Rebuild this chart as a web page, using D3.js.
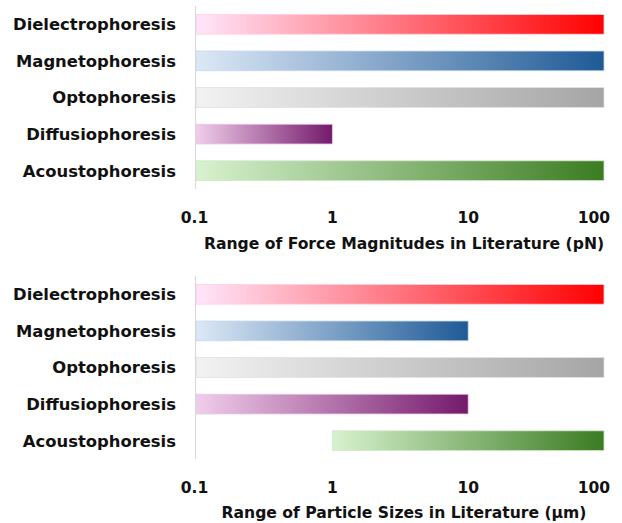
<!DOCTYPE html>
<html><head><meta charset="utf-8">
<script src="https://cdn.jsdelivr.net/npm/d3@7"></script>
<style>body{margin:0;background:#fff}svg{display:block}text{font-family:"DejaVu Sans",sans-serif;font-weight:700;fill:#111}</style>
</head><body><svg id="c" width="622" height="523"></svg>
<script>
const categories = ["Dielectrophoresis","Magnetophoresis","Optophoresis","Diffusiophoresis","Acoustophoresis"];
const forceMin = [0.1,0.1,0.1,0.1,0.1];
const forceMax = [100,100,100,1,100];
const sizeMin = [0.1,0.1,0.1,0.1,1];
const sizeMax = [100,10,100,10,100];
const tickValues = [0.1,1,10,100];
const tickLabels = ["0.1","1","10","100"];
const gradStart = ["#ffe6fb","#dce8f6","#f2f2f2","#f0cdea","#d8f2cf"];
const gradEnd = ["#ff0000","#1f5a96","#a5a5a5","#741a6b","#3b7c22"];
const borderCol = ["#ffd0dc","#c7d9ee","#e0e0e0","#e8c8e6","#cfe8c8"];

const svg = d3.select("#c");
const defs = svg.append("defs");
categories.forEach((c,i)=>{
  const g = defs.append("linearGradient").attr("id","g"+i).attr("x1","0%").attr("x2","100%").attr("y1","0").attr("y2","0");
  g.append("stop").attr("offset","0%").attr("stop-color",gradStart[i]);
  g.append("stop").attr("offset","100%").attr("stop-color",gradEnd[i]);
});

const x = d3.scaleLog().domain([0.1,100]).range([196.5,604]);
function panel(top, yEnd, mins, maxs, title, tickY, titleY){
  const y = d3.scaleBand().domain(categories).range([top, yEnd]).paddingInner(0.46).paddingOuter(0.23);
  const g = svg.append("g");
  g.append("line").attr("x1",195.5).attr("x2",195.5).attr("y1",top).attr("y2",yEnd).attr("stroke","#d9d9d9").attr("stroke-width",1.2);
  categories.forEach((c,i)=>{
    g.append("rect").attr("x",x(mins[i])).attr("y",y(c)).attr("width",x(maxs[i])-x(mins[i])).attr("height",y.bandwidth())
      .attr("fill","url(#g"+i+")").attr("stroke",borderCol[i]).attr("stroke-width",0.8);
    g.append("text").attr("x",176).attr("y",y(c)+y.bandwidth()/2).attr("dy","0.36em").attr("text-anchor","end")
      .attr("font-size",16.4).text(c);
  });
  tickValues.forEach((t,i)=>{
    const last = i===tickValues.length-1;
    g.append("text").attr("x",last? 610 : x(t)-(i===0?2:0)).attr("y",tickY).attr("dy","0.36em")
      .attr("text-anchor",last?"end":"middle").attr("font-size",15.5).text(tickLabels[i]);
  });
  g.append("text").attr("x",404).attr("y",titleY).attr("dy","0.36em").attr("text-anchor","middle").attr("font-size",15.6).text(title);
}
panel(6, 189, forceMin, forceMax, "Range of Force Magnitudes in Literature (pN)", 217, 243);
panel(276, 459, sizeMin, sizeMax, "Range of Particle Sizes in Literature (µm)", 487, 512);
</script></body></html>
